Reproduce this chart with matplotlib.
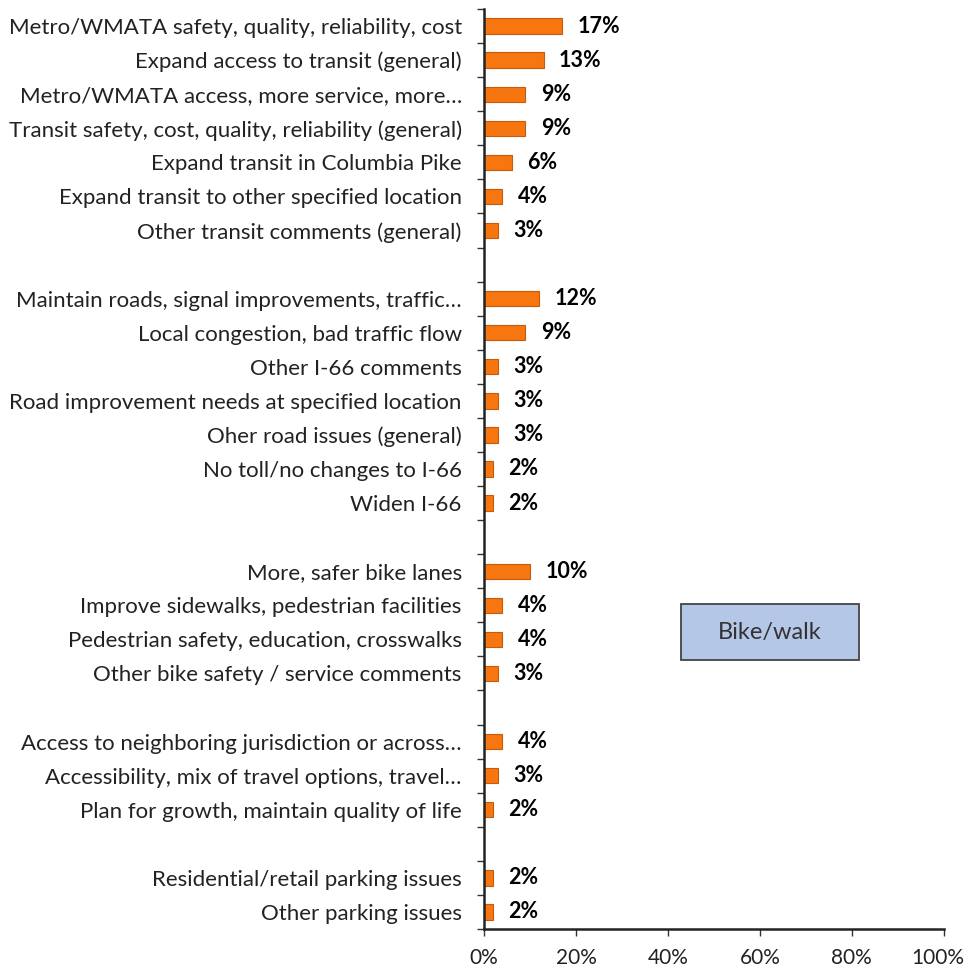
import matplotlib.pyplot as plt
from matplotlib.patches import Rectangle
import matplotlib.transforms as mtransforms
import numpy as np

# Categorias (de arriba a abajo), "" = separador entre grupos
labels = [
    "Metro/WMATA safety, quality, reliability, cost",
    "Expand access to transit (general)",
    "Metro/WMATA access, more service, more\u2026",
    "Transit safety, cost, quality, reliability (general)",
    "Expand transit in Columbia Pike",
    "Expand transit to other specified location",
    "Other transit comments (general)",
    "",
    "Maintain roads, signal improvements, traffic\u2026",
    "Local congestion, bad traffic flow",
    "Other I-66 comments",
    "Road improvement needs at specified location",
    "Oher road issues (general)",
    "No toll/no changes to I-66",
    "Widen I-66",
    "",
    "More, safer bike lanes",
    "Improve sidewalks, pedestrian facilities",
    "Pedestrian safety, education, crosswalks",
    "Other bike safety / service comments",
    "",
    "Access to neighboring jurisdiction or across\u2026",
    "Accessibility, mix of travel options, travel\u2026",
    "Plan for growth, maintain quality of life",
    "",
    "Residential/retail parking issues",
    "Other parking issues",
]
values = [17, 13, 9, 9, 6, 4, 3, None,
          12, 9, 3, 3, 3, 2, 2, None,
          10, 4, 4, 3, None,
          4, 3, 2, None,
          2, 2]
xticks = [0, 20, 40, 60, 80, 100]

plt.rcParams['font.family'] = ['Lato', 'DejaVu Sans']

fig = plt.figure(figsize=(9.68, 9.68), dpi=100)
ax = fig.add_axes([0.5, 0.0403, 0.975 - 0.5, 0.9907 - 0.0403])

y = np.arange(len(labels))
for yi, v in zip(y, values):
    if v is None:
        continue
    ax.barh(yi, v, height=0.45, color='#f7760f', edgecolor='#c85a0c', linewidth=0.8)
    ax.annotate(f"{v}%", (v, yi), xytext=(11, 0), textcoords='offset points',
                va='center', ha='left', fontsize=15.5, fontweight='bold', color='black')

ax.set_ylim(len(labels) - 0.5, -0.5)
ax.set_xlim(0, 100)
ax.set_yticks(y)
ax.set_yticklabels(labels, fontsize=16, color='#222222')
ax.set_yticks(np.arange(len(labels) + 1) - 0.5, minor=True)
ax.tick_params(axis='y', which='major', length=0, pad=16)
ax.tick_params(axis='y', which='minor', length=5, width=1, color='#333333')
ax.set_xticks(xticks)
ax.set_xticklabels([f"{t}%" for t in xticks], fontsize=15, color='#222222')
ax.tick_params(axis='x', length=5, width=1, color='#333333', pad=9)

# el "100%" queda pegado al borde: lo corro un poco a la izquierda
last = ax.get_xticklabels()[-1]
last.set_transform(last.get_transform() +
                   mtransforms.ScaledTranslation(-4 / 72, 0, fig.dpi_scale_trans))

for s in ['top', 'right']:
    ax.spines[s].set_visible(False)
for s in ['left', 'bottom']:
    ax.spines[s].set_linewidth(1.8)
    ax.spines[s].set_color('#222222')

# Etiqueta "Bike/walk"
fig.patches.append(Rectangle((681 / 968, 1 - 660 / 968), 178 / 968, 56 / 968,
                             transform=fig.transFigure, facecolor='#b4c7e7',
                             edgecolor='#444444', linewidth=1.3))
fig.text(770 / 968, 1 - 632 / 968, "Bike/walk", ha='center', va='center',
         fontsize=17, color='#333333')

plt.savefig("out.png", dpi=100)
